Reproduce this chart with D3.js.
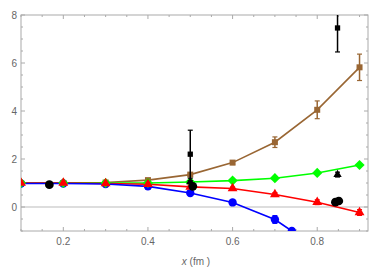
<!DOCTYPE html>
<html><head><meta charset="utf-8">
<script src="https://cdn.jsdelivr.net/npm/d3@7"></script>
<style>body{margin:0;background:#fff}text{font-family:"Liberation Sans",Arial,sans-serif}</style>
</head><body><svg id="c" width="381" height="271"></svg>
<script>
const xs = [0.1,0.2,0.3,0.4,0.5,0.6,0.7,0.8,0.9];
const brownVals = [1.0,1.0,1.02,1.12,1.35,1.85,2.7,4.05,5.82];
const brownErr  = [0,0,0,0.04,0.05,0.08,0.22,0.37,0.55];
const greenVals = [1.0,1.0,1.0,1.0,1.04,1.1,1.2,1.42,1.75];
const greenErr  = [0,0,0,0,0,0,0,0,0];
const redVals   = [1.0,1.0,0.98,0.95,0.84,0.77,0.52,0.2,-0.23];
const redErr    = [0,0.05,0.05,0.05,0.04,0.06,0.08,0.1,0.12];
const blueX     = [0.1,0.2,0.3,0.4,0.5,0.6,0.7,0.74];
const blueVals  = [0.98,0.98,0.96,0.86,0.58,0.19,-0.52,-1.0];
const blueErr   = [0,0,0,0.04,0.05,0.06,0.16,0];
const blackCircX = [0.167,0.506,0.843,0.851];
const blackCircY = [0.93,0.86,0.2,0.25];
const blackTriX = [0.5,0.848];
const blackTriY = [1.05,1.35];
const blackTriErr = [0.05,0.1];
const blackSqX = [0.5,0.848];
const blackSqY = [2.2,7.46];
const blackSqErr = [1.0,1.0];
const xTicks = [0.2,0.4,0.6,0.8];
const yTicks = [0,2,4,6,8];

const W=381,H=271,m={l:21,r:13,t:15,b:40};
const svg=d3.select("#c");
const x=d3.scaleLinear().domain([0.1,0.92]).range([m.l,W-m.r]);
const y=d3.scaleLinear().domain([-1,8]).range([H-m.b,m.t]);
const fc="#aaa", tc="#666";

svg.append("defs").append("clipPath").attr("id","clip").append("rect")
  .attr("x",m.l).attr("y",m.t).attr("width",W-m.l-m.r).attr("height",H-m.t-m.b);

svg.append("line").attr("x1",m.l).attr("x2",W-m.r).attr("y1",y(0)).attr("y2",y(0)).attr("stroke","#bbb").attr("stroke-width",1);

const xMinor=d3.range(0.1,0.92,0.05).map(v=>+v.toFixed(2));
const yMinor=d3.range(-1,8.01,0.5);
const g=svg.append("g");
function tk(x1,y1,x2,y2){g.append("line").attr("x1",x1).attr("y1",y1).attr("x2",x2).attr("y2",y2).attr("stroke",fc).attr("stroke-width",1);}
xMinor.forEach(v=>{const major=xTicks.some(t=>Math.abs(t-v)<1e-6);const L=major?4:2;
  tk(x(v),y(-1),x(v),y(-1)-L); tk(x(v),y(8),x(v),y(8)+L);});
yMinor.forEach(v=>{const major=yTicks.some(t=>Math.abs(t-v)<1e-6);const L=major?4:2;
  tk(x(0.1),y(v),x(0.1)+L,y(v)); tk(x(0.92),y(v),x(0.92)-L,y(v));});
svg.append("rect").attr("x",m.l).attr("y",m.t).attr("width",W-m.l-m.r).attr("height",H-m.t-m.b)
  .attr("fill","none").attr("stroke",fc).attr("stroke-width",1);

xTicks.forEach(v=>svg.append("text").attr("x",x(v)).attr("y",y(-1)+14).attr("text-anchor","middle")
  .attr("font-size",10).attr("fill",tc).text(v.toFixed(1)));
yTicks.forEach(v=>svg.append("text").attr("x",m.l-4).attr("y",y(v)+3.5).attr("text-anchor","end")
  .attr("font-size",10).attr("fill",tc).text(v));
const xl=svg.append("text").attr("x",196).attr("y",265).attr("text-anchor","middle").attr("font-size",10).attr("fill",tc);
xl.append("tspan").attr("font-style","italic").text("x");
xl.append("tspan").text(" (fm )");

const P=svg.append("g").attr("clip-path","url(#clip)");
function errs(X,Y,E,col){X.forEach((xv,i)=>{const e=E[i];if(!e)return;
  P.append("line").attr("x1",x(xv)).attr("x2",x(xv)).attr("y1",y(Y[i]-e)).attr("y2",y(Y[i]+e)).attr("stroke",col).attr("stroke-width",1.5);
  [Y[i]-e,Y[i]+e].forEach(yy=>P.append("line").attr("x1",x(xv)-2.5).attr("x2",x(xv)+2.5).attr("y1",y(yy)).attr("y2",y(yy)).attr("stroke",col).attr("stroke-width",1.2));});}
function line(X,Y,col){P.append("path").datum(X.map((v,i)=>[v,Y[i]])).attr("fill","none").attr("stroke",col).attr("stroke-width",1.6)
  .attr("d",d3.line().x(d=>x(d[0])).y(d=>y(d[1])));}
function marks(X,Y,col,type,size){const sym={circle:d3.symbolCircle,square:d3.symbolSquare,triangle:d3.symbolTriangle,diamond:(d3.symbolDiamond2||d3.symbolDiamond)}[type];
  X.forEach((xv,i)=>P.append("path").attr("d",d3.symbol().type(sym).size(size)()).attr("transform",`translate(${x(xv)},${y(Y[i])})`).attr("fill",col));}

const brown="#996633",green="#00ff00",red="#ff0000",blue="#0000ff";
line(xs,brownVals,brown); line(xs,greenVals,green); line(xs,redVals,red); line(blueX,blueVals,blue);
errs(xs,brownVals,brownErr,brown); errs(xs,redVals,redErr,red); errs(blueX,blueVals,blueErr,blue);
marks(blueX,blueVals,blue,"circle",55);
marks(xs,brownVals,brown,"square",36);
marks(xs,greenVals,green,"diamond",66);
marks(xs,redVals,red,"triangle",42);
errs(blackSqX,blackSqY,blackSqErr,"#000"); errs(blackTriX,blackTriY,blackTriErr,"#000");
marks(blackCircX,blackCircY,"#000","circle",60);
marks(blackTriX,blackTriY,"#000","triangle",30);
marks(blackSqX,blackSqY,"#000","square",28);
</script></body></html>
